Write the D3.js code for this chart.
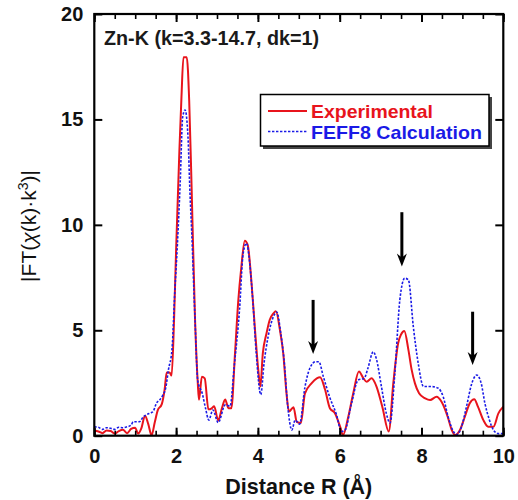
<!DOCTYPE html>
<html><head><meta charset="utf-8">
<script src="https://cdn.jsdelivr.net/npm/d3@7"></script>
<style>
html,body{margin:0;padding:0;background:#fff;}
svg{display:block;}
text{font-family:"Liberation Sans",Arial,sans-serif;}
</style></head>
<body>
<svg id="chart" width="518" height="500"></svg>
<script>
// ---- data ----
const expR = [0.00,0.10,0.20,0.30,0.40,0.50,0.60,0.70,0.80,0.90,1.00,1.07,1.15,1.24,1.32,1.40,1.48,1.55,1.65,1.72,1.77,1.84,1.89,1.95,2.00,2.08,2.13,2.18,2.26,2.32,2.38,2.46,2.53,2.56,2.63,2.70,2.79,2.87,2.93,3.03,3.12,3.20,3.28,3.35,3.44,3.52,3.59,3.68,3.75,3.85,3.93,4.01,4.06,4.12,4.21,4.29,4.38,4.44,4.54,4.62,4.70,4.76,4.87,4.95,5.05,5.15,5.31,5.44,5.52,5.64,5.76,5.88,6.01,6.08,6.21,6.33,6.47,6.58,6.66,6.78,6.90,7.04,7.20,7.31,7.43,7.50,7.58,7.68,7.76,7.84,7.94,8.09,8.21,8.37,8.49,8.64,8.74,8.82,8.94,9.06,9.18,9.29,9.38,9.51,9.63,9.76,9.88,10.00];
const expV = [0.25,0.20,0.12,0.25,0.22,0.10,0.22,0.28,0.12,0.32,0.38,0.10,0.35,0.95,0.55,0.02,0.65,1.20,1.50,2.20,3.00,3.00,2.85,5.50,8.80,13.50,16.00,17.95,17.95,15.90,11.70,5.70,2.50,1.70,2.80,2.72,1.25,1.30,1.40,0.72,1.30,1.72,1.30,1.30,3.90,6.40,7.90,9.25,9.05,7.10,5.00,3.10,2.33,3.90,4.85,5.50,5.80,5.90,5.00,3.90,2.00,1.15,1.35,0.66,0.60,2.00,2.48,2.72,2.77,2.20,1.30,1.08,0.43,0.03,0.90,2.00,3.04,2.72,2.56,2.72,2.33,1.38,0.20,2.48,4.40,4.80,4.97,4.07,3.12,2.48,2.01,1.77,1.69,1.85,1.61,0.90,0.27,0.03,0.27,0.90,1.54,1.73,1.38,0.75,0.43,0.43,1.06,1.38];
const calcR = [0.00,0.10,0.20,0.30,0.40,0.50,0.60,0.70,0.80,0.90,0.95,1.10,1.20,1.28,1.40,1.44,1.52,1.60,1.67,1.75,1.81,1.90,1.97,2.03,2.10,2.16,2.22,2.29,2.34,2.38,2.46,2.53,2.64,2.72,2.80,2.90,3.03,3.20,3.32,3.42,3.55,3.64,3.72,3.80,3.88,3.96,4.07,4.15,4.25,4.38,4.46,4.56,4.64,4.73,4.83,4.91,5.02,5.15,5.27,5.41,5.49,5.60,5.76,5.92,6.04,6.13,6.29,6.45,6.60,6.69,6.82,6.90,7.02,7.14,7.23,7.35,7.47,7.59,7.68,7.80,7.92,8.05,8.25,8.41,8.53,8.65,8.78,8.86,8.98,9.10,9.23,9.35,9.46,9.55,9.66,9.76,9.88,10.00];
const calcV = [0.42,0.40,0.30,0.38,0.35,0.30,0.40,0.38,0.42,0.50,0.66,0.66,0.90,1.00,1.10,1.15,1.55,1.70,1.90,2.30,3.10,4.10,6.90,9.00,12.00,15.10,15.45,14.20,11.50,9.75,5.65,2.60,2.00,1.30,0.74,1.22,0.62,1.46,1.40,3.27,5.96,8.65,9.13,8.18,6.28,3.90,1.95,3.43,4.70,5.65,5.87,4.85,3.59,1.38,0.27,0.74,0.55,2.30,3.20,3.51,3.51,2.80,1.80,1.00,0.20,0.27,1.54,2.64,2.72,3.20,3.98,3.62,2.33,1.06,0.60,3.00,6.44,7.47,7.39,5.17,3.43,2.33,2.33,2.25,1.85,0.90,0.20,0.05,0.43,1.38,2.48,2.88,2.48,1.54,0.75,0.27,0.10,0.10];
const arrowR   = [5.35, 7.52, 9.25];
const arrowTop = [6.44, 10.6, 5.88];
const arrowTip = [3.87, 8.02, 3.35];
const xMajor = [0,2,4,6,8,10];
const yMajor = [0,5,10,15,20];
const seriesNames = ["Experimental","FEFF8 Calculation"];
const titleText = "Zn-K (k=3.3-14.7, dk=1)";
const xTitle = "Distance R (Å)";

// ---- layout ----
const svg = d3.select("#chart");
const x = d3.scaleLinear().domain([0,10]).range([94.3,503.3]);
const y = d3.scaleLinear().domain([0,20]).range([435.7,14]);
const RED = "#e8141c", BLUE = "#1a1ae6";

const plot = svg.append("g");
plot.append("clipPath").attr("id","clip").append("rect")
  .attr("x",x(0)).attr("y",y(20)).attr("width",x(10)-x(0)).attr("height",y(0)-y(20));

const line = d3.line().x(d=>x(d[0])).y(d=>y(d[1])).curve(d3.curveMonotoneX);
const expData = expR.map((r,i)=>[r,expV[i]]);
const calcData = calcR.map((r,i)=>[r,calcV[i]]);

const curves = plot.append("g").attr("clip-path","url(#clip)");
curves.append("path").datum(expData).attr("d",line)
  .attr("fill","none").attr("stroke",RED).attr("stroke-width",2).attr("stroke-linejoin","round");
curves.append("path").datum(calcData).attr("d",line)
  .attr("fill","none").attr("stroke",BLUE).attr("stroke-width",1.6).attr("stroke-dasharray","2.4,1.6");

// axes
function styleAxis(g, w){ g.select(".domain").remove(); g.selectAll(".tick line").attr("stroke","#000").attr("stroke-width",w); }
const minorX = d3.range(0,10.01,0.5);
const fmt = d3.format("d");
svg.append("g").attr("transform",`translate(0,${y(0)})`)
  .call(d3.axisBottom(x).tickValues(minorX).tickSize(-5).tickFormat(""))
  .call(g=>styleAxis(g,1.6));
svg.append("g").attr("transform",`translate(0,${y(0)})`)
  .call(d3.axisBottom(x).tickValues(xMajor).tickSize(-8).tickPadding(13).tickFormat(fmt))
  .call(g=>styleAxis(g,2))
  .call(g=>g.selectAll("text").attr("font-size",20).attr("font-weight","bold").attr("fill","#111").attr("font-family","Liberation Sans, Arial, sans-serif"));
svg.append("g").attr("transform",`translate(0,${y(20)})`)
  .call(d3.axisTop(x).tickValues(minorX).tickSize(-5).tickFormat(""))
  .call(g=>styleAxis(g,1.6));
svg.append("g").attr("transform",`translate(0,${y(20)})`)
  .call(d3.axisTop(x).tickValues(xMajor).tickSize(-8).tickFormat(""))
  .call(g=>styleAxis(g,2));
svg.append("g").attr("transform",`translate(${x(0)},0)`)
  .call(d3.axisLeft(y).tickValues(yMajor).tickSize(-8).tickPadding(11).tickFormat(fmt))
  .call(g=>styleAxis(g,2))
  .call(g=>g.selectAll("text").attr("font-size",20).attr("font-weight","bold").attr("fill","#111").attr("font-family","Liberation Sans, Arial, sans-serif"));
svg.append("g").attr("transform",`translate(${x(10)},0)`)
  .call(d3.axisRight(y).tickValues(yMajor).tickSize(-8).tickFormat(""))
  .call(g=>styleAxis(g,2));

// frame
svg.append("rect").attr("x",x(0)).attr("y",y(20)).attr("width",x(10)-x(0)).attr("height",y(0)-y(20))
  .attr("fill","none").attr("stroke","#000").attr("stroke-width",2.2);

// arrows
const ag = svg.append("g");
arrowR.forEach((r,i)=>{
  const cx = x(r), yt = y(arrowTop[i]), yp = y(arrowTip[i]);
  ag.append("line").attr("x1",cx).attr("x2",cx).attr("y1",yt).attr("y2",yp-8)
    .attr("stroke","#000").attr("stroke-width",3);
  ag.append("path").attr("d",`M${cx-5},${yp-13} L${cx},${yp-9} L${cx+5},${yp-13} L${cx},${yp} Z`).attr("fill","#000");
});

// title
svg.append("text").attr("x",104).attr("y",45).attr("font-size",19.5).attr("font-weight","bold")
  .attr("fill","#1a1a1a").attr("textLength",215).attr("lengthAdjust","spacingAndGlyphs").text(titleText);

// legend
const lg = svg.append("g");
lg.append("rect").attr("x",263).attr("y",97).attr("width",229).attr("height",52).attr("fill","#444");
lg.append("rect").attr("x",260.5).attr("y",94.5).attr("width",228.5).attr("height",51.5)
  .attr("fill","#fff").attr("stroke","#000").attr("stroke-width",1.5);
lg.append("line").attr("x1",268).attr("x2",307).attr("y1",111).attr("y2",111).attr("stroke",RED).attr("stroke-width",2);
lg.append("line").attr("x1",268).attr("x2",307).attr("y1",131.5).attr("y2",131.5).attr("stroke",BLUE).attr("stroke-width",1.6).attr("stroke-dasharray","2.4,1.6");
lg.append("text").attr("x",311).attr("y",117.5).attr("font-size",19).attr("font-weight","bold").attr("fill",RED)
  .attr("textLength",122).attr("lengthAdjust","spacingAndGlyphs").text(seriesNames[0]);
lg.append("text").attr("x",311).attr("y",138.5).attr("font-size",19).attr("font-weight","bold").attr("fill",BLUE)
  .attr("textLength",171).attr("lengthAdjust","spacingAndGlyphs").text(seriesNames[1]);

// axis titles
svg.append("text").attr("x",(x(0)+x(10))/2).attr("y",494).attr("text-anchor","middle")
  .attr("font-size",21.5).attr("font-weight","bold").attr("fill","#111").text(xTitle);
const yl = svg.append("text").attr("transform","translate(36,226) rotate(-90)").attr("text-anchor","middle")
  .attr("font-size",21).attr("fill","#111");
yl.append("tspan").text("|FT(");
yl.append("tspan").attr("font-style","italic").text("χ");
yl.append("tspan").text("(k)·k");
yl.append("tspan").attr("font-size",14).attr("dy",-8).text("3");
yl.append("tspan").attr("dy",8).text(")|");
</script>
</body></html>
